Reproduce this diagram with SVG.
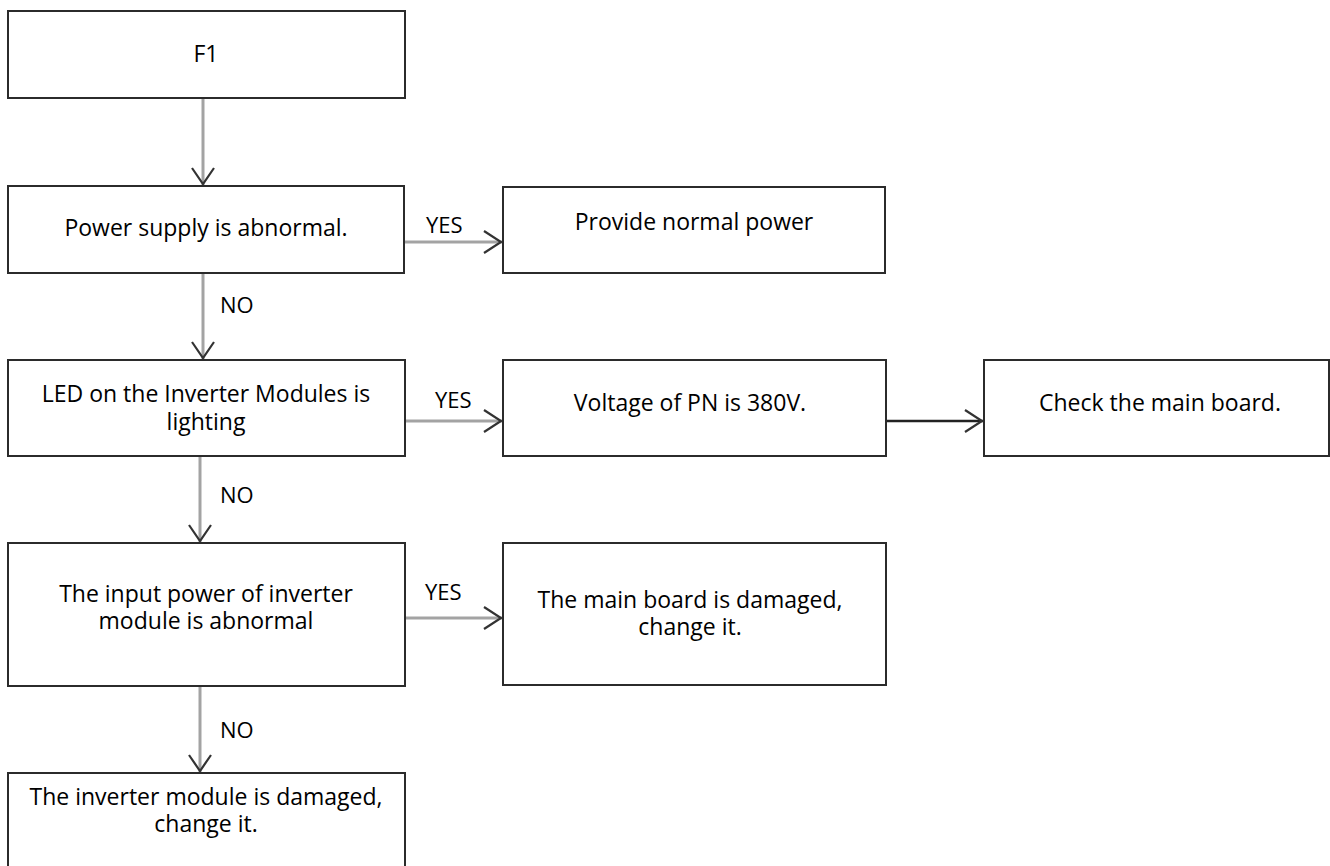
<svg xmlns="http://www.w3.org/2000/svg" width="1330" height="866" viewBox="0 0 1330 866">
<style>
.box{fill:#fff;stroke:#2b2b2b;stroke-width:2}
.t{font-family:"Open Sans","Liberation Sans",sans-serif;font-size:23px;fill:#000;text-anchor:middle}
.lbl{font-family:"Open Sans","Liberation Sans",sans-serif;font-size:22px;fill:#000}
.c{fill:none;stroke:#a3a3a3;stroke-width:3}
.cb{fill:none;stroke:#222;stroke-width:2.5}
.ah{fill:none;stroke:#333;stroke-width:2.2;stroke-linejoin:miter}
</style>
<rect width="1330" height="866" fill="#fff"/>
<g id="connectors">
<line class="c" x1="203" y1="98" x2="203" y2="185"/>
<polyline class="ah" points="192,168 203,184 214,168"/>
<line class="c" x1="404" y1="242" x2="502" y2="242"/>
<polyline class="ah" points="484,231 501,242 484,253"/>
<line class="c" x1="203" y1="273" x2="203" y2="359"/>
<polyline class="ah" points="192,342 203,358 214,342"/>
<line class="c" x1="405" y1="421" x2="502" y2="421"/>
<polyline class="ah" points="484,410 501,421 484,432"/>
<line class="cb" x1="886" y1="421" x2="983" y2="421"/>
<polyline class="ah" points="965,410 982,421 965,432"/>
<line class="c" x1="200" y1="456" x2="200" y2="542"/>
<polyline class="ah" points="189,525 200,541 211,525"/>
<line class="c" x1="405" y1="618" x2="502" y2="618"/>
<polyline class="ah" points="484,607 501,618 484,629"/>
<line class="c" x1="200" y1="686" x2="200" y2="772"/>
<polyline class="ah" points="189,755 200,771 211,755"/>
<text class="lbl" x="426" y="233">YES</text>
<text class="lbl" x="220" y="313">NO</text>
<text class="lbl" x="435" y="408">YES</text>
<text class="lbl" x="220" y="503">NO</text>
<text class="lbl" x="425" y="600">YES</text>
<text class="lbl" x="220" y="738">NO</text>
</g>
<g id="n1">
<rect class="box" x="8" y="11" width="397" height="87"/>
<text class="t" x="206" y="62">F1</text>
</g>
<g id="n2">
<rect class="box" x="8" y="186" width="396" height="87"/>
<text class="t" x="206" y="236">Power supply is abnormal.</text>
</g>
<g id="n3">
<rect class="box" x="503" y="187" width="382" height="86"/>
<text class="t" x="694" y="230">Provide normal power</text>
</g>
<g id="n4">
<rect class="box" x="8" y="360" width="397" height="96"/>
<text class="t" x="206" y="402">LED on the Inverter Modules is</text>
<text class="t" x="206" y="430">lighting</text>
</g>
<g id="n5">
<rect class="box" x="503" y="360" width="383" height="96"/>
<text class="t" x="690" y="411">Voltage of PN is 380V.</text>
</g>
<g id="n6">
<rect class="box" x="984" y="360" width="345" height="96"/>
<text class="t" x="1160" y="411">Check the main board.</text>
</g>
<g id="n7">
<rect class="box" x="8" y="543" width="397" height="143"/>
<text class="t" x="206" y="602">The input power of inverter</text>
<text class="t" x="206" y="629">module is abnormal</text>
</g>
<g id="n8">
<rect class="box" x="503" y="543" width="383" height="142"/>
<text class="t" x="690" y="608">The main board is damaged,</text>
<text class="t" x="690" y="635">change it.</text>
</g>
<g id="n9">
<rect class="box" x="8" y="773" width="397" height="100"/>
<text class="t" x="206" y="805">The inverter module is damaged,</text>
<text class="t" x="206" y="832">change it.</text>
</g>
</svg>
